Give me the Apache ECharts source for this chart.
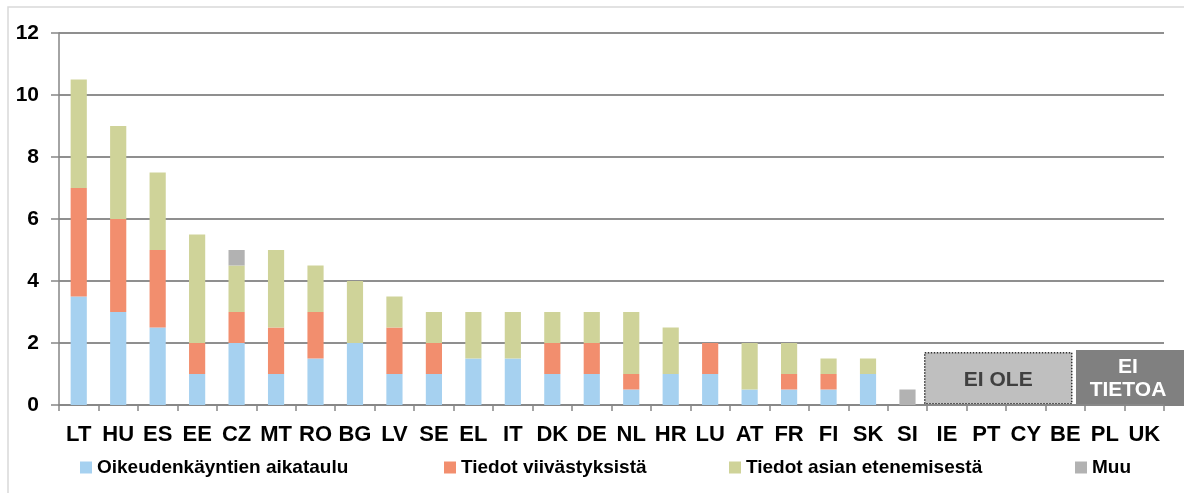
<!DOCTYPE html>
<html>
<head>
<meta charset="utf-8">
<script src="https://cdn.jsdelivr.net/npm/echarts@6/dist/echarts.min.js"></script>
<style>
  html, body { margin: 0; padding: 0; background: #fff; }
  #main { width: 1184px; height: 493px; }
</style>
</head>
<body>
<div id="main"></div>
<script>
// maat
var countries = ['LT', 'HU', 'ES', 'EE', 'CZ', 'MT', 'RO', 'BG', 'LV', 'SE', 'EL', 'IT', 'DK', 'DE',
    'NL', 'HR', 'LU', 'AT', 'FR', 'FI', 'SK', 'SI', 'IE', 'PT', 'CY', 'BE', 'PL', 'UK']

var seriesNames = ['Oikeudenkäyntien aikataulu', 'Tiedot viivästyksistä', 'Tiedot asian etenemisestä', 'Muu']

// arvot kuvasta luettuna
var aikataulu = [3.5, 3, 2.5, 1, 2, 1, 1.5, 2, 1, 1, 1.5, 1.5, 1, 1, 0.5, 1, 1, 0.5, 0.5, 0.5, 1, null, null, null, null, null, null, null]
var viivastykset = [3.5, 3, 2.5, 1, 1, 1.5, 1.5, null, 1.5, 1, null, null, 1, 1, 0.5, null, 1, null, 0.5, 0.5, null, null, null, null, null, null, null, null]
var eteneminen = [3.5, 3, 2.5, 3.5, 1.5, 2.5, 1.5, 2, 1, 1, 1.5, 1.5, 1, 1, 2, 1.5, null, 1.5, 1, 0.5, 0.5, null, null, null, null, null, null, null]
var muu = [null, null, null, null, 0.5, null, null, null, null, null, null, null, null, null, null, null, null, null, null, null, null, 0.5, null, null, null, null, null, null]

var yTicks = [0, 2, 4, 6, 8, 10, 12]

var colors = ['#a6d1f0', '#f28e6e', '#cfd399', '#b2b2b2']
var font = 'Arial, "Liberation Sans", sans-serif'

var myChart = echarts.init(document.getElementById('main'))

var values = [aikataulu, viivastykset, eteneminen, muu]
var series = values.map(function (v, i) {
    return {
        name: seriesNames[i],
        type: 'bar',
        stack: 'total',
        barWidth: '41%',
        data: v,
        itemStyle: { color: colors[i] }
    }
})

// legendat erikseen, jotta paikat osuvat
var legendLeft = [75, 439, 724, 1070]
var legends = seriesNames.map(function (name, i) {
    return {
        data: [name],
        left: legendLeft[i],
        top: 453,
        itemWidth: 12,
        itemHeight: 12,
        itemGap: 0,
        icon: 'rect',
        textStyle: { fontFamily: font, fontWeight: 'bold', fontSize: 19, color: '#000', padding: [0, 0, 0, 0] }
    }
})

var option = {
    animation: false,
    color: colors,
    grid: { left: 59, top: 33, right: 20, bottom: 88 },
    legend: legends,
    xAxis: {
        type: 'category',
        data: countries,
        axisLine: { lineStyle: { color: '#868686', width: 1.5 } },
        axisTick: { show: true, alignWithLabel: false, length: 6, lineStyle: { color: '#868686', width: 1.5 } },
        axisLabel: { fontFamily: font, fontWeight: 'bold', fontSize: 22, color: '#000', margin: 19, interval: 0 }
    },
    yAxis: {
        type: 'value',
        min: yTicks[0],
        max: yTicks[yTicks.length - 1],
        interval: 2,
        axisLine: { show: true, lineStyle: { color: '#868686', width: 1.5 } },
        axisTick: { show: true, length: 8, lineStyle: { color: '#868686', width: 1.5 } },
        axisLabel: { fontFamily: font, fontWeight: 'bold', fontSize: 21, color: '#000', margin: 20 },
        splitLine: { lineStyle: { color: '#8f8f8f', width: 2 } }
    },
    series: series,
    graphic: [
        {
            type: 'rect',
            shape: { x: 8, y: 7, width: 1200, height: 520 },
            style: { fill: null, stroke: '#d9d9d9', lineWidth: 1.5 },
            silent: true,
            z: -10
        },
        {
            type: 'group',
            left: 924,
            top: 352,
            children: [
                {
                    type: 'rect',
                    shape: { x: 0, y: 0, width: 147, height: 51 },
                    style: { fill: '#bfbfbf', stroke: '#333', lineWidth: 1.5, lineDash: [1.5, 1.5] }
                },
                {
                    type: 'text',
                    x: 73.5, y: 27,
                    style: { text: 'EI OLE', fill: '#404040', font: 'bold 21px ' + font, align: 'center', verticalAlign: 'middle' }
                }
            ]
        },
        {
            type: 'group',
            left: 1076,
            top: 350,
            children: [
                {
                    type: 'rect',
                    shape: { x: 0, y: 0, width: 120, height: 56 },
                    style: { fill: '#808080' }
                },
                {
                    type: 'text',
                    x: 52, y: 29,
                    style: { text: 'EI\nTIETOA', fill: '#fff', font: 'bold 21px ' + font, align: 'center', verticalAlign: 'middle', lineHeight: 23 }
                }
            ]
        }
    ]
}

myChart.setOption(option)
</script>
</body>
</html>
